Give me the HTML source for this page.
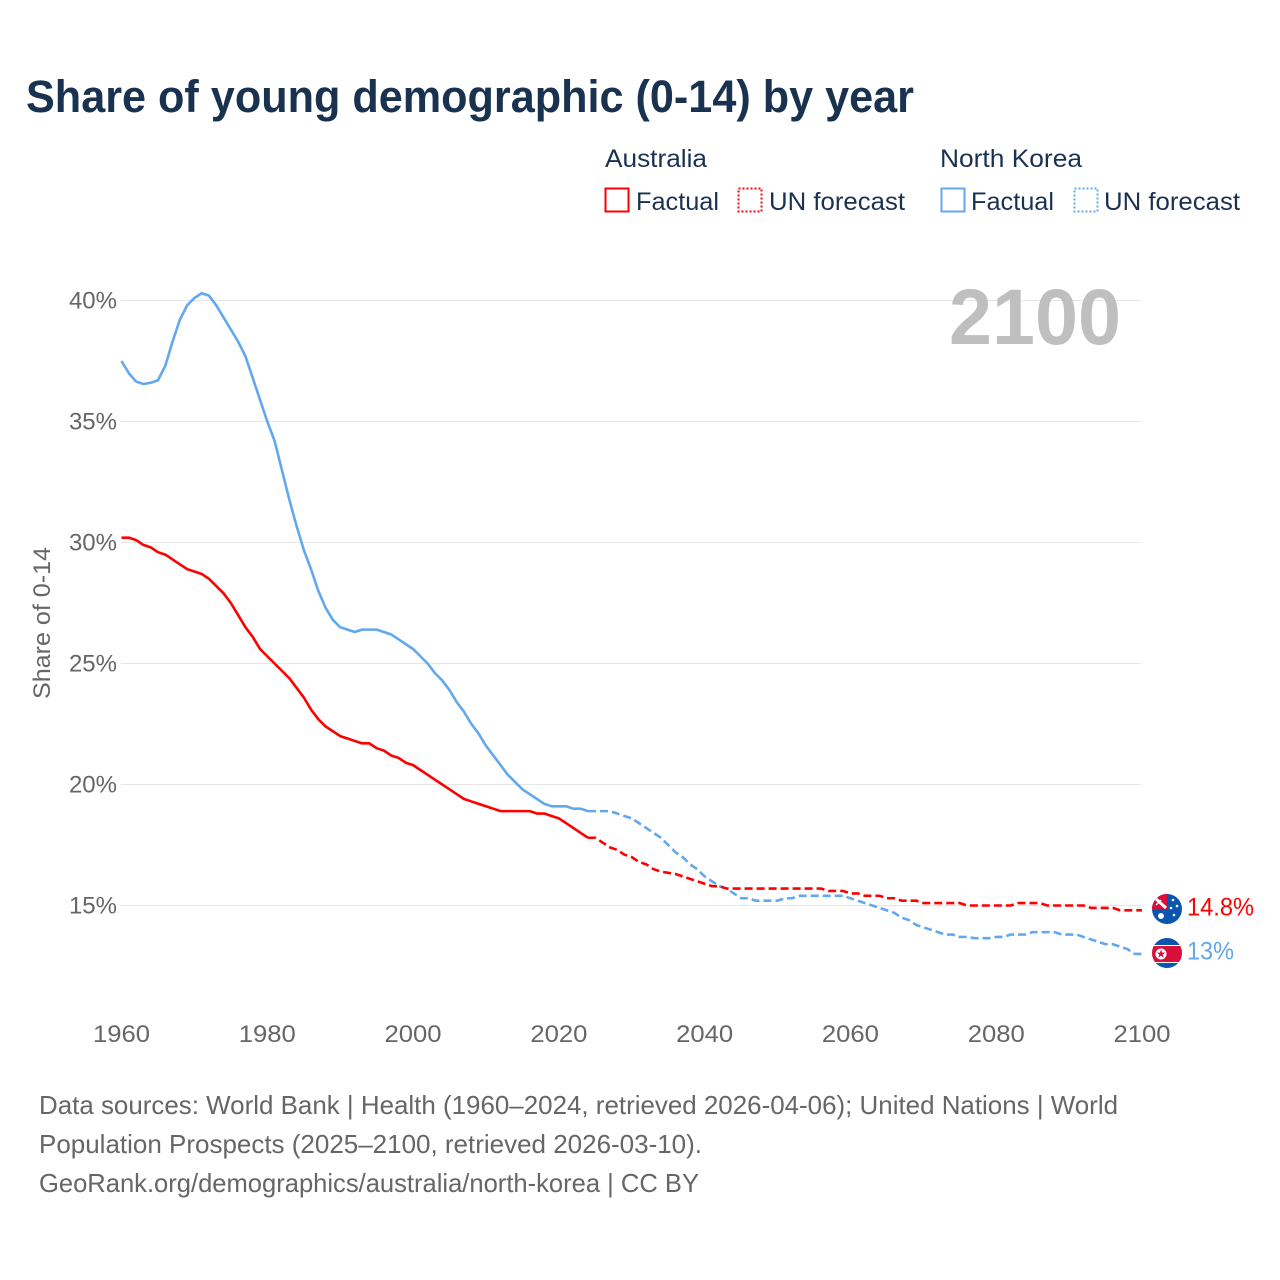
<!DOCTYPE html>
<html lang="en">
<head>
<meta charset="utf-8">
<title>Share of young demographic (0-14) by year</title>
<style>
html,body{margin:0;padding:0;background:#fff;}
svg{display:block;}
text{font-family:"Liberation Sans",sans-serif;}
</style>
</head>
<body>
<svg id="chart" width="1280" height="1280" viewBox="0 0 1280 1280" xmlns="http://www.w3.org/2000/svg">
  <defs>
    <clipPath id="flag-clip-au"><circle cx="1167" cy="909" r="15"/></clipPath>
    <clipPath id="flag-clip-kp"><circle cx="1167" cy="953" r="15"/></clipPath>
  </defs>
  <rect width="1280" height="1280" fill="#fff"/>
  <text x="26" y="112" font-size="45" font-weight="700" fill="#18324f" textLength="888" lengthAdjust="spacingAndGlyphs">Share of young demographic (0-14) by year</text>

  <g font-size="25" fill="#1a3150">
    <text x="605" y="167" textLength="102" lengthAdjust="spacingAndGlyphs">Australia</text>
    <rect x="605.5" y="188.5" width="23" height="23" fill="none" stroke="#ff0000" stroke-width="2"/>
    <text x="636" y="210" textLength="83" lengthAdjust="spacingAndGlyphs">Factual</text>
    <rect x="738.5" y="188.5" width="23" height="23" fill="none" stroke="#ff0000" stroke-width="2" stroke-dasharray="2 2"/>
    <text x="769" y="210" textLength="136" lengthAdjust="spacingAndGlyphs">UN forecast</text>
    <text x="940" y="167" textLength="142" lengthAdjust="spacingAndGlyphs">North Korea</text>
    <rect x="941.5" y="188.5" width="23" height="23" fill="none" stroke="#62a8ee" stroke-width="2"/>
    <text x="971" y="210" textLength="83" lengthAdjust="spacingAndGlyphs">Factual</text>
    <rect x="1074.5" y="188.5" width="23" height="23" fill="none" stroke="#62a8ee" stroke-width="2" stroke-dasharray="2 2"/>
    <text x="1104" y="210" textLength="136" lengthAdjust="spacingAndGlyphs">UN forecast</text>
  </g>

  <g id="grid"></g>
  <text x="949" y="344" font-size="79" font-weight="700" fill="#bfbfbf" textLength="172" lengthAdjust="spacingAndGlyphs">2100</text>
  <g id="y-ticks"></g>
  <g id="x-ticks"></g>
  <text transform="translate(50 623) rotate(-90)" text-anchor="middle" font-size="24" fill="#666" textLength="152" lengthAdjust="spacingAndGlyphs">Share of 0-14</text>
  <g id="series"></g>

  <g clip-path="url(#flag-clip-au)">
    <rect x="1152" y="894" width="30" height="30" fill="#0a55b0"/>
    <rect x="1152" y="894" width="15" height="15" fill="#d80f3a"/>
    <path d="M1155 898l11 10" stroke="#fff" stroke-width="3"/>
    <path d="M1156 905l5 -5" stroke="#fff" stroke-width="1.5"/>
    <circle cx="1161" cy="916" r="3" fill="#fff"/>
    <circle cx="1173" cy="900" r="1.3" fill="#fff"/>
    <circle cx="1177" cy="906" r="1.3" fill="#fff"/>
    <circle cx="1171" cy="908" r="1.3" fill="#fff"/>
    <circle cx="1174" cy="915" r="1.3" fill="#fff"/>
  </g>
  <g clip-path="url(#flag-clip-kp)">
    <rect x="1152" y="938" width="30" height="30" fill="#0a55b0"/>
    <rect x="1152" y="945" width="30" height="18" fill="#fff"/>
    <rect x="1152" y="946" width="30" height="16" fill="#d80f3a"/>
    <circle cx="1161" cy="954" r="5.5" fill="#fff"/>
    <polygon points="1161,949.5 1162.1,952.6 1165.3,952.6 1162.7,954.6 1163.7,957.7 1161,955.8 1158.3,957.7 1159.3,954.6 1156.7,952.6 1159.9,952.6" fill="#d80f3a"/>
  </g>
  <g id="end-labels"></g>

  <g font-size="26" fill="#666">
    <text x="39" y="1114" textLength="1079" lengthAdjust="spacingAndGlyphs">Data sources: World Bank | Health (1960–2024, retrieved 2026-04-06); United Nations | World</text>
    <text x="39" y="1153" textLength="663" lengthAdjust="spacingAndGlyphs">Population Prospects (2025–2100, retrieved 2026-03-10).</text>
    <text x="39" y="1192" textLength="660" lengthAdjust="spacingAndGlyphs">GeoRank.org/demographics/australia/north-korea | CC BY</text>
  </g>
</svg>
<script>
const xTickYears = [1960, 1980, 2000, 2020, 2040, 2060, 2080, 2100];
const yTickValues = [15, 20, 25, 30, 35, 40];
const startYear = 1960;
const lastFactualYear = 2024;
const australiaValues = [
30.2,30.2,30.1,29.9,29.8,29.6,29.5,29.3,29.1,28.9,
28.8,28.7,28.5,28.2,27.9,27.5,27.0,26.5,26.1,25.6,
25.3,25.0,24.7,24.4,24.0,23.6,23.1,22.7,22.4,22.2,
22.0,21.9,21.8,21.7,21.7,21.5,21.4,21.2,21.1,20.9,
20.8,20.6,20.4,20.2,20.0,19.8,19.6,19.4,19.3,19.2,
19.1,19.0,18.9,18.9,18.9,18.9,18.9,18.8,18.8,18.7,
18.6,18.4,18.2,18.0,17.8,17.8,17.6,17.4,17.3,17.1,
17.0,16.8,16.7,16.5,16.4,16.35,16.3,16.2,16.1,16.0,
15.9,15.8,15.8,15.7,15.7,15.7,15.7,15.7,15.7,15.7,
15.7,15.7,15.7,15.7,15.7,15.7,15.7,15.6,15.6,15.6,
15.5,15.5,15.4,15.4,15.4,15.3,15.3,15.2,15.2,15.2,
15.1,15.1,15.1,15.1,15.1,15.1,15.0,15.0,15.0,15.0,
15.0,15.0,15.0,15.1,15.1,15.1,15.1,15.0,15.0,15.0,
15.0,15.0,15.0,14.9,14.9,14.9,14.9,14.8,14.8,14.8,14.8];
const northKoreaValues = [
37.5,37.0,36.65,36.55,36.6,36.7,37.3,38.3,39.2,39.8,
40.1,40.3,40.2,39.8,39.3,38.8,38.3,37.7,36.8,35.9,
35.0,34.2,33.0,31.8,30.7,29.7,28.9,28.0,27.3,26.8,
26.5,26.4,26.3,26.4,26.4,26.4,26.3,26.2,26.0,25.8,
25.6,25.3,25.0,24.6,24.3,23.9,23.4,23.0,22.5,22.1,
21.6,21.2,20.8,20.4,20.1,19.8,19.6,19.4,19.2,19.1,
19.1,19.1,19.0,19.0,18.9,18.9,18.9,18.9,18.8,18.7,
18.6,18.4,18.2,18.0,17.8,17.5,17.2,17.0,16.7,16.5,
16.2,16.0,15.8,15.7,15.5,15.3,15.3,15.2,15.2,15.2,
15.2,15.3,15.3,15.4,15.4,15.4,15.4,15.4,15.4,15.4,
15.3,15.2,15.1,15.0,14.9,14.8,14.7,14.5,14.4,14.2,
14.1,14.0,13.9,13.8,13.8,13.7,13.7,13.65,13.65,13.65,
13.7,13.7,13.8,13.8,13.8,13.9,13.9,13.9,13.9,13.8,
13.8,13.8,13.7,13.6,13.5,13.4,13.4,13.3,13.2,13.0,13.0];
const endLabels = ['14.8%', '13%'];

const NS = 'http://www.w3.org/2000/svg';
const RED = '#ff0000';
const BLUE = '#62a8ee';
function xScale(year) { return 121.5 + (year - 1960) * (1142 - 121.5) / 140; }
function yScale(v) { return 905.5 - (v - 15) * (905.5 - 300.5) / 25; }
function make(parent, tag, attrs, txt) {
  const el = document.createElementNS(NS, tag);
  for (const k in attrs) el.setAttribute(k, attrs[k]);
  if (txt !== undefined) el.textContent = txt;
  parent.appendChild(el);
  return el;
}
const gridG = document.getElementById('grid');
const yG = document.getElementById('y-ticks');
yTickValues.forEach(function (v) {
  const line = make(gridG, 'line', {x1: 121, x2: 1141, y1: yScale(v), y2: yScale(v), stroke: '#e6e6e6', 'stroke-width': 1});
  
  
  const t = make(yG, 'text', {x: 117, y: yScale(v) + 8, 'text-anchor': 'end', 'font-size': 24, fill: '#666'}, v + '%');
  
  
});
const xG = document.getElementById('x-ticks');
xTickYears.forEach(function (yr) {
  const t = make(xG, 'text', {x: xScale(yr), y: 1042, 'text-anchor': 'middle', 'font-size': 24, fill: '#666', textLength: 57, lengthAdjust: 'spacingAndGlyphs'}, String(yr));
  
  
});
function pathFor(values, from, to) {
  const pts = [];
  values.forEach(function (v, i) {
    const yr = startYear + i;
    if (yr >= from && yr <= to) pts.push(xScale(yr).toFixed(2) + ',' + yScale(v).toFixed(2));
  });
  return pts.join(' ');
}
const seriesG = document.getElementById('series');
function drawSeries(values, color, key) {
  const endYear = startYear + values.length - 1;
  const a = make(seriesG, 'polyline', {points: pathFor(values, startYear, lastFactualYear), fill: 'none', stroke: color, 'stroke-width': 2.6, 'stroke-linejoin': 'round'});
  
  
  const b = make(seriesG, 'polyline', {points: pathFor(values, lastFactualYear, endYear), fill: 'none', stroke: color, 'stroke-width': 2.6, 'stroke-dasharray': '8 4', 'stroke-linejoin': 'round'});
  
  
}
drawSeries(northKoreaValues, BLUE, 'north-korea');
drawSeries(australiaValues, RED, 'australia');
const labG = document.getElementById('end-labels');
const lab1 = make(labG, 'text', {x: 1187, y: yScale(australiaValues[australiaValues.length - 1]) + 5, 'font-size': 25, fill: RED, textLength: 67, lengthAdjust: 'spacingAndGlyphs'}, endLabels[0]);


const lab2 = make(labG, 'text', {x: 1187, y: yScale(northKoreaValues[northKoreaValues.length - 1]) + 5.5, 'font-size': 25, fill: BLUE, textLength: 47, lengthAdjust: 'spacingAndGlyphs'}, endLabels[1]);


</script>
</body>
</html>
